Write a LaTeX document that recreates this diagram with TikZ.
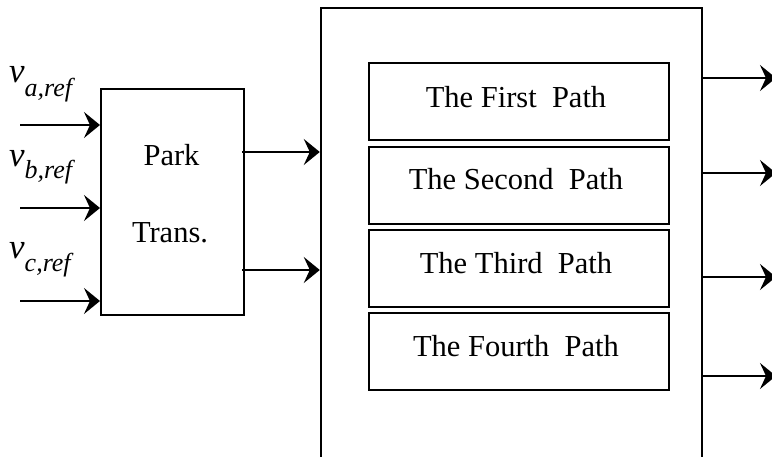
\documentclass[tikz,border=0pt]{standalone}
\usepackage{fontspec}
\setmainfont{Liberation Serif}
\usetikzlibrary{arrows.meta}
\begin{document}
\begin{tikzpicture}[x=1pt,y=-1pt,
  boxline/.style={draw=black,line width=2pt,inner sep=0pt},
  pathbox/.style={boxline,minimum width=300pt,minimum height=77pt},
  arr/.style={line width=2pt,-{Stealth[length=16pt,width=26pt,inset=6pt]}},
  txt/.style={anchor=base,inner sep=0pt,font=\fontsize{30.5}{36}\selectfont},
  vlab/.style={anchor=base west,inner sep=0pt,font=\fontsize{35}{40}\selectfont\itshape}]
\useasboundingbox (0,0) rectangle (772,457);
\clip (0,0) rectangle (772,457);
% big box
\node[boxline,line width=2.4pt,minimum width=381pt,minimum height=470pt] (big) at (511.5,243) {};
% park box
\node[boxline,minimum width=143pt,minimum height=226pt] (park) at (172.5,202) {};
\node[txt] (parkt) at (171.5,166) {Park};
\node[txt] (transt) at (170,243) {Trans.};
% path boxes
\node[pathbox] (p1) at (519,101.5) {};
\node[pathbox] (p2) at (519,185.5) {};
\node[pathbox] (p3) at (519,269) {};
\node[pathbox] (p4) at (519,351.5) {};
\node[txt] (t1) at (516,108) {The First\ \ Path};
\node[txt] (t2) at (516,190) {The Second\ \ Path};
\node[txt] (t3) at (516,274) {The Third\ \ Path};
\node[txt] (t4) at (516,357) {The Fourth\ \ Path};
% input labels
\node[vlab] (va) at (9,83) {v\raisebox{-14pt}{\fontsize{26}{30}\selectfont a,ref}};
\node[vlab] (vb) at (9,167) {v\raisebox{-12pt}{\fontsize{26}{30}\selectfont b,ref}};
\node[vlab] (vc) at (9,259) {v\raisebox{-13pt}{\fontsize{26}{30}\selectfont c,ref}};
% input arrows
\coordinate (ia) at (20,125);
\coordinate (ib) at (20,208);
\coordinate (ic) at (20,301);
\draw[arr] (ia) -- (park.west |- ia);
\draw[arr] (ib) -- (park.west |- ib);
\draw[arr] (ic) -- (park.west |- ic);
% park outputs
\coordinate (pa) at (242,152);
\coordinate (pb) at (242,270);
\draw[arr] (pa) -- (big.west |- pa);
\draw[arr] (pb) -- (big.west |- pb);
% outputs
\coordinate (o1) at (776,78);
\coordinate (o2) at (776,173);
\coordinate (o3) at (776,277);
\coordinate (o4) at (776,376);
\draw[arr] (big.east |- o1) -- (o1);
\draw[arr] (big.east |- o2) -- (o2);
\draw[arr] (big.east |- o3) -- (o3);
\draw[arr] (big.east |- o4) -- (o4);
\end{tikzpicture}
\end{document}
